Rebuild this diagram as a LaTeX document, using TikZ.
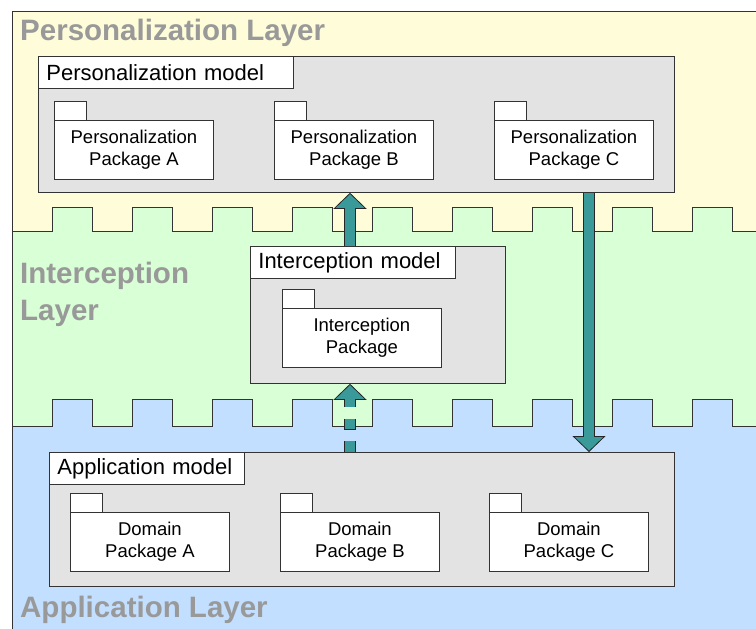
\documentclass[tikz,border=0pt]{standalone}
\usepackage{fontspec}
\setmainfont{Liberation Sans}
\usetikzlibrary{arrows.meta}
\definecolor{persyellow}{RGB}{255,253,217}
\definecolor{intgreen}{RGB}{217,255,214}
\definecolor{appblue}{RGB}{194,223,255}
\definecolor{modelgray}{RGB}{227,227,227}
\definecolor{layergray}{RGB}{153,153,153}
\definecolor{flowteal}{RGB}{58,153,153}
\tikzset{
  model/.style={draw=black!80, fill=modelgray, line width=.8pt, anchor=north west, inner sep=0pt},
  modellabel/.style={draw=black!80, fill=white, line width=.8pt, anchor=north west, inner xsep=8pt, inner ysep=0pt,
    minimum height=32pt, text width=#1, align=left, font=\fontsize{22}{26}\selectfont},
  package/.style={draw=black!80, fill=white, line width=.8pt, anchor=north west, minimum width=159pt,
    minimum height=59pt, inner sep=0pt, align=center, font=\fontsize{18.5}{22}\selectfont},
  pkgtab/.style={draw=black!80, fill=white, line width=.8pt},
  layername/.style={text=layergray, anchor=base west, inner sep=0pt, align=left, font=\fontsize{29.5}{37}\selectfont\bfseries},
  crest/.style={draw=black!80, line width=.8pt},
  arrowrim/.style={draw=black!85, line width=11.6pt, shorten >=15pt},
  arrowbody/.style={draw=flowteal, line width=10pt, -{Triangle[width=33pt,length=16pt,line width=.8pt,color=black!85,fill=flowteal]}},
  arrowpatch/.style={draw=flowteal, line width=10pt, shorten >=14.5pt}
}
\begin{document}
\begin{tikzpicture}[x=1pt,y=-1pt]
\useasboundingbox (0,0) rectangle (756,629);
% layers
\fill[persyellow] (12,11) rectangle (756,629);
\fill[intgreen] (12,231) \foreach \x in {52,132,...,692} { -- (\x,231) -- (\x,207) -- (\x+40,207) -- (\x+40,231) } -- (756,231) -- (756,629) -- (12,629) -- cycle;
\fill[appblue] (12,426) \foreach \x in {52,132,...,692} { -- (\x,426) -- (\x,399) -- (\x+40,399) -- (\x+40,426) } -- (756,426) -- (756,629) -- (12,629) -- cycle;
\draw[crest] (12,231) \foreach \x in {52,132,...,692} { -- (\x,231) -- (\x,207) -- (\x+40,207) -- (\x+40,231) } -- (756,231);
\draw[crest] (12,426) \foreach \x in {52,132,...,692} { -- (\x,426) -- (\x,399) -- (\x+40,399) -- (\x+40,426) } -- (756,426);
\draw[crest] (12,629) -- (12,11) -- (756,11);
\node[layername] (perslayer) at (20,41) {Personalization Layer};
\node[layername] (intlayer) at (20,320) {Interception\\Layer};
\node[layername] (applayer) at (20,617) {Application Layer};
% personalization model
\node[model, minimum width=636pt, minimum height=136pt] (pm) at (38,56) {};
\node[modellabel=239pt] (pmlabel) at (38,56) {Personalization model};
\foreach \s/\x in {A/54,B/274,C/494} {
  \node[package] (pp\s) at (\x,120) {Personalization\\Package \s};
  \draw[pkgtab] (pp\s.north west) rectangle ++(32,-19);
}
% interception model
\node[model, minimum width=255pt, minimum height=137pt] (im) at (250,246) {};
\node[modellabel=189pt] (imlabel) at (250,246) {Interception model};
\node[package] (ip) at (282,308) {Interception\\Package};
\draw[pkgtab] (ip.north west) rectangle ++(32,-19);
% application model
\node[model, minimum width=625pt, minimum height=134pt] (am) at (49,452) {};
\node[modellabel=179pt] (amlabel) at (49,452) {Application model};
\foreach \s/\x in {A/70,B/280,C/489} {
  \node[package] (dp\s) at (\x,512) {Domain\\Package \s};
  \draw[pkgtab] (dp\s.north west) rectangle ++(32,-19);
}
% flows
\coordinate (upx) at (350,0);
\coordinate (downx) at (589,0);
\draw[arrowrim] (im.north -| upx) -- (pm.south -| upx);
\draw[arrowbody] (im.north -| upx) -- (pm.south -| upx);
\draw[arrowpatch] (im.north -| upx) -- (pm.south -| upx);
\draw[arrowrim] (pm.south -| downx) -- (am.north -| downx);
\draw[arrowbody] (pm.south -| downx) -- (am.north -| downx);
\draw[arrowpatch] (pm.south -| downx) -- (am.north -| downx);
\draw[arrowrim, dash pattern=on 11pt off 11.5pt] (am.north -| upx) -- (im.south -| upx);
\draw[arrowbody, dash pattern=on 10.2pt off 12.3pt, dash phase=22.1pt] (am.north -| upx) -- (im.south -| upx);
\draw[arrowpatch, dash pattern=on 10.2pt off 12.3pt, dash phase=22.1pt] (am.north -| upx) -- (im.south -| upx);
\end{tikzpicture}
\end{document}
